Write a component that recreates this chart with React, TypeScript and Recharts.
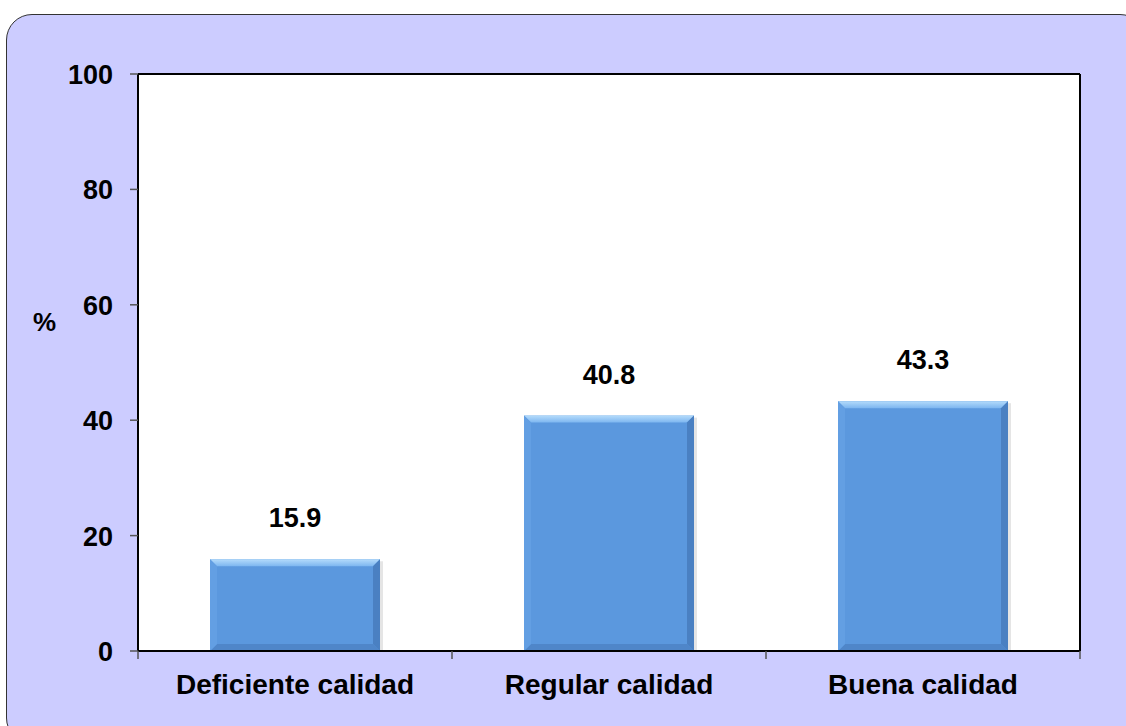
import React from "react";
import { BarChart, Bar, XAxis, YAxis, CartesianGrid, LabelList, Label, ReferenceLine } from "recharts";

const categories = ["Deficiente calidad", "Regular calidad", "Buena calidad"];
const percentages = [15.9, 40.8, 43.3];
const yTicks = [0, 20, 40, 60, 80, 100];

const data = categories.map((name, i) => ({ name, value: percentages[i] }));

const FONT = "'Liberation Sans', Arial, sans-serif";
const textStyle = { fill: "#000", fontSize: 27, fontWeight: 700, fontFamily: FONT };

// bevelled bar, the way office charts draw it
const BevelBar = (props: any) => {
  const { x, y, width, height } = props;
  if (!height || height <= 0) return null;
  const b = Math.min(7, height / 2);
  return (
    <g>
      <rect x={x + 3} y={y + 2} width={width} height={height - 2} fill="#000" opacity={0.1} />
      <rect x={x} y={y} width={width} height={height} fill="#5B98DE" />
      <polygon points={`${x},${y} ${x + width},${y} ${x + width - b},${y + b} ${x + b},${y + b}`} fill="url(#bevTop)" />
      <polygon
        points={`${x},${y + height} ${x + width},${y + height} ${x + width - b},${y + height - b} ${x + b},${y + height - b}`}
        fill="#4F86C9"
      />
      <polygon points={`${x},${y} ${x + b},${y + b} ${x + b},${y + height - b} ${x},${y + height}`} fill="#639FE3" />
      <polygon
        points={`${x + width},${y} ${x + width - b},${y + b} ${x + width - b},${y + height - b} ${x + width},${y + height}`}
        fill="#4A80C2"
      />
    </g>
  );
};

const ValueLabel = (props: any) => {
  const { x, y, width, value } = props;
  return (
    <text x={x + width / 2} y={y - 32} textAnchor="middle" style={textStyle}>
      {Number(value).toFixed(1)}
    </text>
  );
};

const YTick = (props: any) => {
  const { x, y, payload } = props;
  return (
    <text x={x} y={y} dy={10} textAnchor="end" style={textStyle}>
      {payload.value}
    </text>
  );
};

// category label plus the tick marks on the band edges
const XTick = (props: any) => {
  const { x, y, payload, index, visibleTicksCount } = props;
  const half = payload.offset ?? 0;
  const tickStroke = { stroke: "#555", strokeWidth: 1.5 };
  return (
    <g>
      <line x1={x - half} x2={x - half} y1={y} y2={y + 8} {...tickStroke} />
      {index === visibleTicksCount - 1 && <line x1={x + half} x2={x + half} y1={y} y2={y + 8} {...tickStroke} />}
      <text x={x} y={y} dy={43} textAnchor="middle" style={{ ...textStyle, fontSize: 28 }}>
        {payload.value}
      </text>
    </g>
  );
};

export default function App() {
  return (
    <div style={{ position: "fixed", left: 0, top: 0, width: 1126, height: 726, background: "#fff", overflow: "hidden" }}>
      <div
        style={{
          position: "absolute",
          left: 6,
          top: 14,
          width: 1140,
          height: 730,
          background: "#CCCCFF",
          border: "1.5px solid #333",
          borderRadius: 26,
          boxSizing: "border-box",
        }}
      />
      <div style={{ position: "absolute", left: 0, top: 0 }}>
        <BarChart width={1126} height={726} data={data} margin={{ top: 74, right: 46, bottom: 0, left: 0 }} barSize={170}>
          <defs>
            <linearGradient id="bevTop" x1="0" y1="0" x2="0" y2="1">
              <stop offset="0%" stopColor="#B4DBFB" />
              <stop offset="100%" stopColor="#7DB6F0" />
            </linearGradient>
          </defs>
          <CartesianGrid fill="#fff" horizontal={false} vertical={false} />
          <XAxis
            dataKey="name"
            tickLine={false}
            tickSize={0}
            tickMargin={0}
            axisLine={{ stroke: "#000", strokeWidth: 2 }}
            tick={<XTick />}
            height={75}
          />
          <YAxis
            domain={[0, 100]}
            ticks={yTicks}
            width={138}
            tickSize={8}
            tickMargin={17}
            tickLine={{ stroke: "#555", strokeWidth: 1.5 }}
            axisLine={{ stroke: "#000", strokeWidth: 2 }}
            tick={<YTick />}
          >
            <Label
              content={() => (
                <text x={33} y={331} style={{ ...textStyle, fontSize: 26 }}>
                  %
                </text>
              )}
            />
          </YAxis>
          <ReferenceLine y={100} stroke="#000" strokeWidth={2} />
          <Bar dataKey="value" shape={<BevelBar />} isAnimationActive={false}>
            <LabelList dataKey="value" content={<ValueLabel />} />
          </Bar>
          <ReferenceLine x={categories[2]} stroke="#000" strokeWidth={2} position="end" />
        </BarChart>
      </div>
    </div>
  );
}
